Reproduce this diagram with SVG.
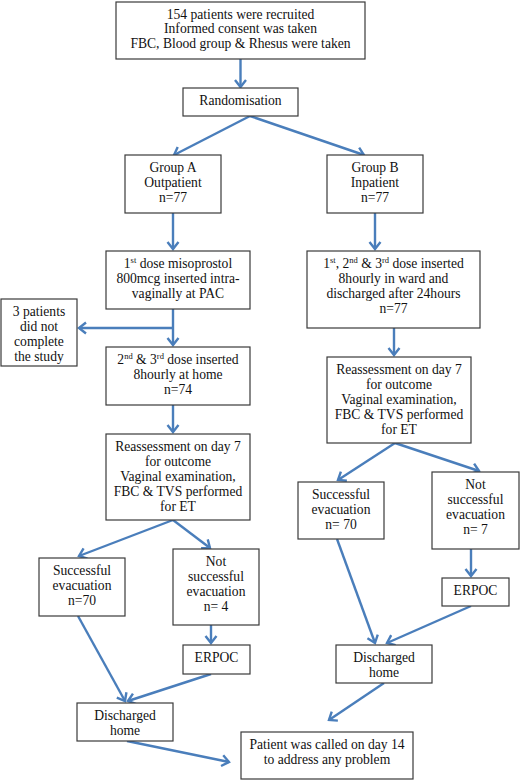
<svg xmlns="http://www.w3.org/2000/svg" width="521" height="780" viewBox="0 0 521 780">
<style>
.box{fill:#fff;stroke:#3a3a3a;stroke-width:1.2}
.t{font-family:"Liberation Serif","Times New Roman",serif;font-size:13.6px;fill:#111;text-anchor:middle}
.s{font-size:8.5px}
.c{fill:none;stroke:#4a7ebb;stroke-width:2.4;marker-end:url(#ah)}
</style>
<defs>
<marker id="ah" markerUnits="userSpaceOnUse" markerWidth="14" markerHeight="14" viewBox="0 0 14 14" refX="8" refY="7" orient="auto">
<path d="M1,1.5 L8,7 L1,12.5" fill="none" stroke="#4a7ebb" stroke-width="2.4"/>
</marker>
</defs>
<rect width="521" height="780" fill="#fff"/>
<g id="connectors">
<line class="c" x1="240.5" y1="59" x2="240.5" y2="87"/>
<line class="c" x1="250" y1="116" x2="174" y2="155"/>
<line class="c" x1="250" y1="116" x2="364" y2="155"/>
<line class="c" x1="173" y1="213" x2="173" y2="249"/>
<line class="c" x1="375" y1="213" x2="375" y2="249"/>
<line class="c" x1="173" y1="309" x2="173" y2="345"/>
<line class="c" x1="173" y1="328" x2="79" y2="328"/>
<line class="c" x1="394" y1="328" x2="394" y2="355"/>
<line class="c" x1="173" y1="405" x2="173" y2="432"/>
<line class="c" x1="173" y1="520" x2="79" y2="556"/>
<line class="c" x1="173" y1="520" x2="210" y2="548"/>
<line class="c" x1="395" y1="443" x2="338" y2="480"/>
<line class="c" x1="395" y1="443" x2="479" y2="471"/>
<line class="c" x1="471" y1="549" x2="471" y2="576"/>
<line class="c" x1="337" y1="539" x2="375" y2="643"/>
<line class="c" x1="211" y1="625" x2="211" y2="643"/>
<line class="c" x1="78" y1="616" x2="125" y2="701"/>
<line class="c" x1="211" y1="674" x2="128" y2="701"/>
<line class="c" x1="127" y1="741" x2="229" y2="762"/>
<line class="c" x1="471" y1="606" x2="387" y2="643"/>
<line class="c" x1="384" y1="683" x2="329" y2="720"/>
</g>
<g id="n1"><rect class="box" x="116" y="2" width="249" height="57"/>
<text class="t" x="240.5" y="19">154 patients were recruited</text>
<text class="t" x="240.5" y="33">Informed consent was taken</text>
<text class="t" x="240.5" y="48">FBC, Blood group &amp; Rhesus were taken</text></g>
<g id="n2"><rect class="box" x="183" y="88" width="115" height="28"/>
<text class="t" x="240.5" y="105">Randomisation</text></g>
<g id="n3"><rect class="box" x="125" y="155" width="96" height="58"/>
<text class="t" x="173" y="172">Group A</text>
<text class="t" x="173" y="187">Outpatient</text>
<text class="t" x="173" y="202">n=77</text></g>
<g id="n4"><rect class="box" x="327" y="155" width="96" height="58"/>
<text class="t" x="375" y="172">Group B</text>
<text class="t" x="375" y="187">Inpatient</text>
<text class="t" x="375" y="202">n=77</text></g>
<g id="n5"><rect class="box" x="106" y="251" width="144" height="58"/>
<text class="t" x="178" y="268">1<tspan class="s" dy="-5">st</tspan><tspan dy="5"> dose misoprostol</tspan></text>
<text class="t" x="178" y="283">800mcg inserted intra-</text>
<text class="t" x="178" y="298">vaginally at PAC</text></g>
<g id="n6"><rect class="box" x="307" y="251" width="173" height="77"/>
<text class="t" x="393.5" y="268">1<tspan class="s" dy="-5">st</tspan><tspan dy="5">, 2</tspan><tspan class="s" dy="-5">nd</tspan><tspan dy="5"> &amp; 3</tspan><tspan class="s" dy="-5">rd</tspan><tspan dy="5"> dose inserted</tspan></text>
<text class="t" x="393.5" y="283">8hourly in ward and</text>
<text class="t" x="393.5" y="298">discharged after 24hours</text>
<text class="t" x="393.5" y="313">n=77</text></g>
<g id="n7"><rect class="box" x="1" y="299" width="76" height="67"/>
<text class="t" x="39" y="316">3 patients</text>
<text class="t" x="39" y="331">did not</text>
<text class="t" x="39" y="346">complete</text>
<text class="t" x="39" y="361">the study</text></g>
<g id="n8"><rect class="box" x="106" y="347" width="144" height="58"/>
<text class="t" x="178" y="364">2<tspan class="s" dy="-5">nd</tspan><tspan dy="5"> &amp; 3</tspan><tspan class="s" dy="-5">rd</tspan><tspan dy="5"> dose inserted</tspan></text>
<text class="t" x="178" y="379">8hourly at home</text>
<text class="t" x="178" y="394">n=74</text></g>
<g id="n9"><rect class="box" x="327" y="357" width="144" height="86"/>
<text class="t" x="399" y="374">Reassessment on day 7</text>
<text class="t" x="399" y="389">for outcome</text>
<text class="t" x="399" y="404">Vaginal examination,</text>
<text class="t" x="399" y="419">FBC &amp; TVS performed</text>
<text class="t" x="399" y="434">for ET</text></g>
<g id="n10"><rect class="box" x="106" y="434" width="144" height="86"/>
<text class="t" x="178" y="451">Reassessment on day 7</text>
<text class="t" x="178" y="466">for outcome</text>
<text class="t" x="178" y="481">Vaginal examination,</text>
<text class="t" x="178" y="496">FBC &amp; TVS performed</text>
<text class="t" x="178" y="511">for ET</text></g>
<g id="n11"><rect class="box" x="298" y="482" width="86" height="57"/>
<text class="t" x="341" y="499">Successful</text>
<text class="t" x="341" y="514">evacuation</text>
<text class="t" x="341" y="529">n= 70</text></g>
<g id="n12"><rect class="box" x="432" y="472" width="87" height="77"/>
<text class="t" x="475.5" y="489">Not</text>
<text class="t" x="475.5" y="504">successful</text>
<text class="t" x="475.5" y="519">evacuation</text>
<text class="t" x="475.5" y="534">n= 7</text></g>
<g id="n13"><rect class="box" x="39" y="558" width="86" height="58"/>
<text class="t" x="82" y="575">Successful</text>
<text class="t" x="82" y="590">evacuation</text>
<text class="t" x="82" y="605">n=70</text></g>
<g id="n14"><rect class="box" x="173" y="549" width="86" height="76"/>
<text class="t" x="216" y="566">Not</text>
<text class="t" x="216" y="581">successful</text>
<text class="t" x="216" y="596">evacuation</text>
<text class="t" x="216" y="611">n= 4</text></g>
<g id="n15"><rect class="box" x="442" y="578" width="67" height="28"/>
<text class="t" x="475.5" y="595">ERPOC</text></g>
<g id="n16"><rect class="box" x="183" y="645" width="67" height="29"/>
<text class="t" x="216.5" y="662">ERPOC</text></g>
<g id="n17"><rect class="box" x="336" y="645" width="96" height="38"/>
<text class="t" x="384" y="662">Discharged</text>
<text class="t" x="384" y="677">home</text></g>
<g id="n18"><rect class="box" x="77" y="703" width="96" height="38"/>
<text class="t" x="125" y="720">Discharged</text>
<text class="t" x="125" y="735">home</text></g>
<g id="n19"><rect class="box" x="241" y="732" width="172" height="47"/>
<text class="t" x="327" y="749">Patient was called on day 14</text>
<text class="t" x="327" y="764">to address any problem</text></g>
</svg>
